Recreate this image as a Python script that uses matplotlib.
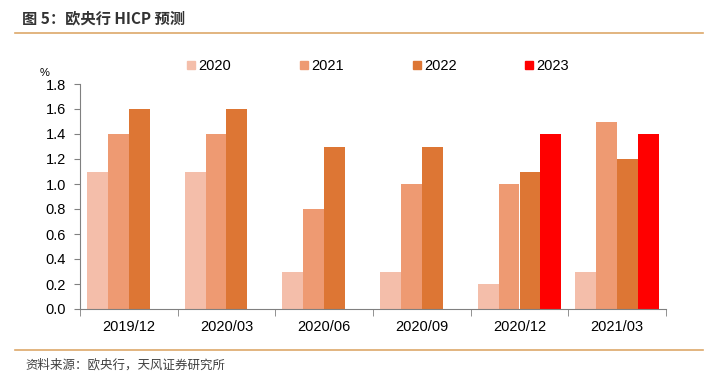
import numpy as np
import matplotlib.pyplot as plt
from matplotlib.lines import Line2D

plt.rcParams['font.family'] = ['Noto Sans CJK SC', 'DejaVu Sans']

periods = ['2019/12', '2020/03', '2020/06', '2020/09', '2020/12', '2021/03']
years = ['2020', '2021', '2022', '2023']
f2020 = [1.1, 1.1, 0.3, 0.3, 0.2, 0.3]
f2021 = [1.4, 1.4, 0.8, 1.0, 1.0, 1.5]
f2022 = [1.6, 1.6, 1.3, 1.3, 1.1, 1.2]
f2023 = [np.nan, np.nan, np.nan, np.nan, 1.4, 1.4]
colors = ['#F4BEAA', '#EE9A72', '#DD7634', '#FF0000']

fig = plt.figure(figsize=(7.17, 3.78), dpi=100)
ax = fig.add_axes([80 / 717, 1 - 309 / 378, 586 / 717, 225 / 378])

x = np.arange(len(periods))
w = 0.215
series = [f2020, f2021, f2022, f2023]
for i, (vals, c) in enumerate(zip(series, colors)):
    ax.bar(x + (i - 1.5) * w, vals, w, color=c, label=years[i], linewidth=0)

ax.set_xlim(-0.5, len(periods) - 0.5)
ax.set_ylim(0, 1.8)
yt = np.arange(0, 1.81, 0.2)
ax.set_yticks(yt)
ax.set_yticklabels([f'{v:.1f}' for v in yt], fontsize=10.5, family='Liberation Sans')
ax.set_xticks(x)
ax.set_xticklabels(periods, fontsize=10.5, family='Liberation Sans')
ax.set_xticks(np.arange(-0.5, len(periods)), minor=True)
ax.tick_params(axis='x', which='major', length=0, pad=8)
ax.tick_params(axis='x', which='minor', length=5, color='#808080', direction='out')
ax.tick_params(axis='y', length=4, color='#808080', direction='out', pad=6)
for s in ['top', 'right']:
    ax.spines[s].set_visible(False)
ax.spines['left'].set_color('#808080')
ax.spines['bottom'].set_color('#808080')

ax.text(-0.06, 1.035, '%', transform=ax.transAxes, fontsize=8, ha='center',
        family='Liberation Sans')

handles = [Line2D([], [], marker='s', linestyle='', markersize=6,
                  color=c) for c in colors]
fig.legend(handles, years, loc='center', bbox_to_anchor=(0.527, 1 - 66 / 378),
           ncol=4, frameon=False, columnspacing=4.7, handlelength=0.6,
           handletextpad=0.2, prop={'family': 'Liberation Sans', 'size': 10.5})

fig.text(22 / 717, 1 - 18 / 378, '图 5：欧央行 HICP 预测', fontsize=11,
         fontweight='bold', color='#333333', va='center')
fig.add_artist(Line2D([15 / 717, 703 / 717], [1 - 33 / 378] * 2,
                      color='#DDA86A', linewidth=1.2))
fig.add_artist(Line2D([15 / 717, 703 / 717], [1 - 350 / 378] * 2,
                      color='#DDA86A', linewidth=1.2))
fig.text(25 / 717, 1 - 365 / 378, '资料来源：欧央行，天风证券研究所', fontsize=9,
         color='#404040', va='center')

fig.savefig('out.png', dpi=100)
